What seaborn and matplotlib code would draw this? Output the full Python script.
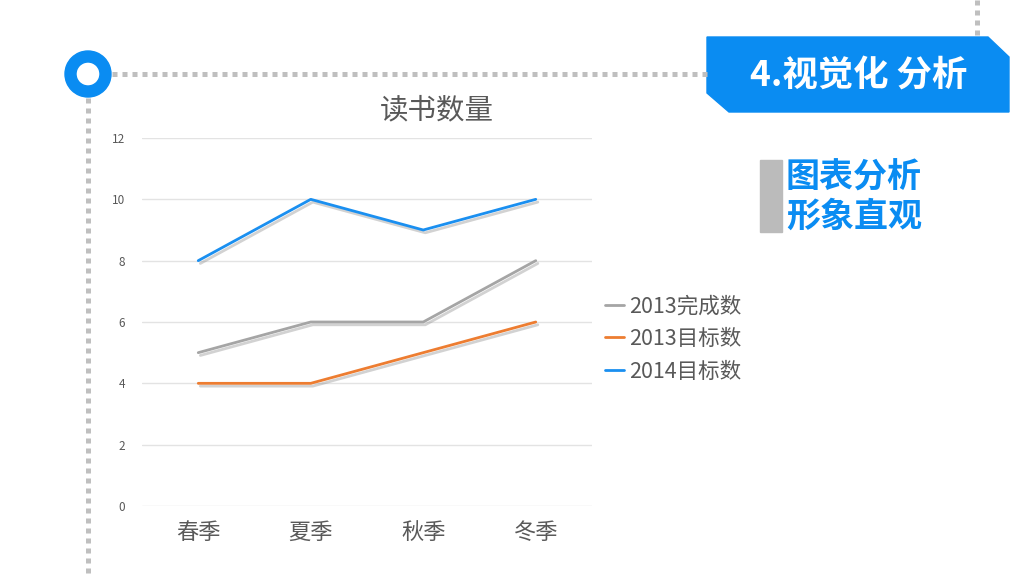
import pandas as pd
import seaborn as sns
import matplotlib.pyplot as plt
import matplotlib.patheffects as pe
from matplotlib.patches import Wedge, Polygon, Rectangle
from matplotlib.lines import Line2D

# 数据
seasons = ['春季', '夏季', '秋季', '冬季']
done_2013 = [5, 6, 6, 8]
target_2013 = [4, 4, 5, 6]
target_2014 = [8, 10, 9, 10]
series_names = ['2013完成数', '2013目标数', '2014目标数']
colors = ['#A5A5A5', '#ED7D31', '#1A8FF0']

df = pd.DataFrame({
    '季节': seasons * 3,
    '数量': done_2013 + target_2013 + target_2014,
    '系列': [s for s in series_names for _ in seasons],
})

sns.set_theme(style='white')
plt.rcParams['font.family'] = ['Noto Sans CJK SC', 'DejaVu Sans']

fig = plt.figure(figsize=(10.24, 5.76), dpi=100)

# 背景装饰（像素坐标）
bg = fig.add_axes([0, 0, 1, 1])
bg.set_xlim(0, 1024)
bg.set_ylim(576, 0)
bg.axis('off')
dot = dict(color='#BFBFBF', lw=3.6, linestyle=(0, (1, 1)), solid_capstyle='butt', dash_capstyle='butt')
bg.plot([112, 707], [74, 74], **dot)
bg.plot([88, 88], [98, 576], **dot)
bg.plot([977, 977], [0, 37], **dot)
bg.add_patch(Wedge((88, 74), 23, 0, 360, width=11, color='#0A8CF2'))
bg.add_patch(Polygon([(707, 37), (988, 37), (1009, 57), (1009, 112), (729, 112), (707, 93)],
                     closed=True, color='#0A8CF2'))
bg.text(859, 76, '4.视觉化 分析', color='white', fontsize=25.5, fontweight='heavy', ha='center', va='center')
bg.add_patch(Rectangle((760, 160), 22, 72, color='#BBBBBB'))
bg.text(786, 177, '图表分析', color='#0A8CF2', fontsize=24.5, fontweight='heavy', ha='left', va='center')
bg.text(786, 216, '形象直观', color='#0A8CF2', fontsize=24.5, fontweight='heavy', ha='left', va='center')
bg.text(437, 110, '读书数量', color='#595959', fontsize=20.5, ha='center', va='center')

# 图表
ax = fig.add_axes([142 / 1024, 1 - 506 / 576, 450 / 1024, 368 / 576])
ax.patch.set_alpha(0)
sns.lineplot(data=df, x='季节', y='数量', hue='系列', hue_order=series_names,
             palette=colors, linewidth=2, ax=ax, legend=False, sort=False)
for line in ax.lines:
    line.set_path_effects([pe.SimpleLineShadow(offset=(1.5, -2), shadow_color='#8F8F8F', alpha=0.4),
                           pe.Normal()])
ax.set_xlim(-0.5, 3.5)
ax.set_ylim(0, 12)
ax.set_yticks(range(0, 13, 2))
ax.grid(axis='y', color='#E3E3E3', linewidth=1)
ax.set_axisbelow(True)
for s in ax.spines.values():
    s.set_visible(False)
ax.tick_params(axis='y', labelsize=8.5, labelcolor='#595959', length=0, pad=12)
ax.tick_params(axis='x', labelsize=16, labelcolor='#595959', length=0, pad=11)
ax.set_xlabel('')
ax.set_ylabel('')

handles = [Line2D([], [], color=c, lw=2) for c in colors]
fig.legend(handles, series_names, loc='center left', bbox_to_anchor=(605 / 1024, 1 - 339 / 576),
           frameon=False, fontsize=15.5, labelcolor='#595959', handlelength=0.9, handletextpad=0.2,
           labelspacing=0.5, borderaxespad=0, borderpad=0)

fig.savefig('out.png', dpi=100)
